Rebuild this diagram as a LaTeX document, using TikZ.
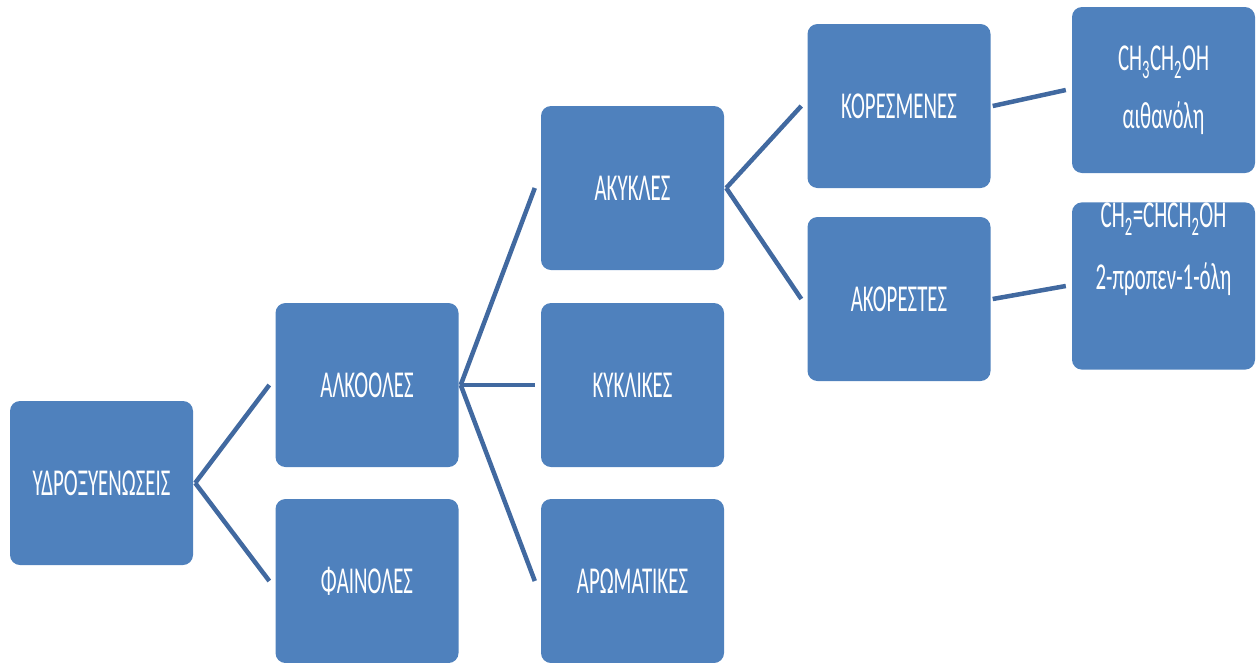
\documentclass[tikz,border=0pt]{standalone}
\usepackage{fontspec}
\newfontfamily\boxfont[FakeStretch=0.55]{Carlito}
\definecolor{boxblue}{HTML}{4F81BD}
\definecolor{lineblue}{HTML}{4169A0}
\tikzset{
  box/.style={rectangle, rounded corners=10pt, fill=boxblue, draw=none,
    minimum width=183pt, minimum height=164pt, inner sep=0pt,
    text=white, align=center, font=\boxfont\fontsize{38}{44}\selectfont},
  conn/.style={draw=lineblue, line width=4.5pt}
}
\begin{document}
\begin{tikzpicture}[x=1pt,y=-1pt]
\useasboundingbox (0,0) rectangle (1258,662);
\node[box] (A) at (101.5,483) {ΥΔΡΟΞΥΕΝΩΣΕΙΣ};
\node[box] (B) at (367,385) {ΑΛΚΟΟΛΕΣ};
\node[box] (C) at (367,581) {ΦΑΙΝΟΛΕΣ};
\node[box] (D) at (632.5,188) {ΑΚΥΚΛΕΣ};
\node[box] (E) at (632.5,385) {ΚΥΚΛΙΚΕΣ};
\node[box] (F) at (632.5,581) {ΑΡΩΜΑΤΙΚΕΣ};
\node[box] (G) at (899,106) {ΚΟΡΕΣΜΕΝΕΣ};
\node[box] (H) at (899,299) {ΑΚΟΡΕΣΤΕΣ};
\node[box, minimum height=166pt, font=\boxfont\fontsize{38}{58}\selectfont] (I) at (1163.5,90)
  {CH\textsubscript{3}CH\textsubscript{2}OH\\αιθανόλη};
\node[box, minimum height=166pt, font=\boxfont\fontsize{38}{62}\selectfont] (J) at (1163.5,286)
  {CH\textsubscript{2}=CHCH\textsubscript{2}OH\\2-προπεν-1-όλη\\ \strut};
\foreach \p/\c in {A/B, A/C, B/D, B/E, B/F, D/G, D/H, G/I, H/J}
  \draw[conn] ([xshift=2pt]\p.east) -- ([xshift=-6pt]\c.west);
\end{tikzpicture}
\end{document}
